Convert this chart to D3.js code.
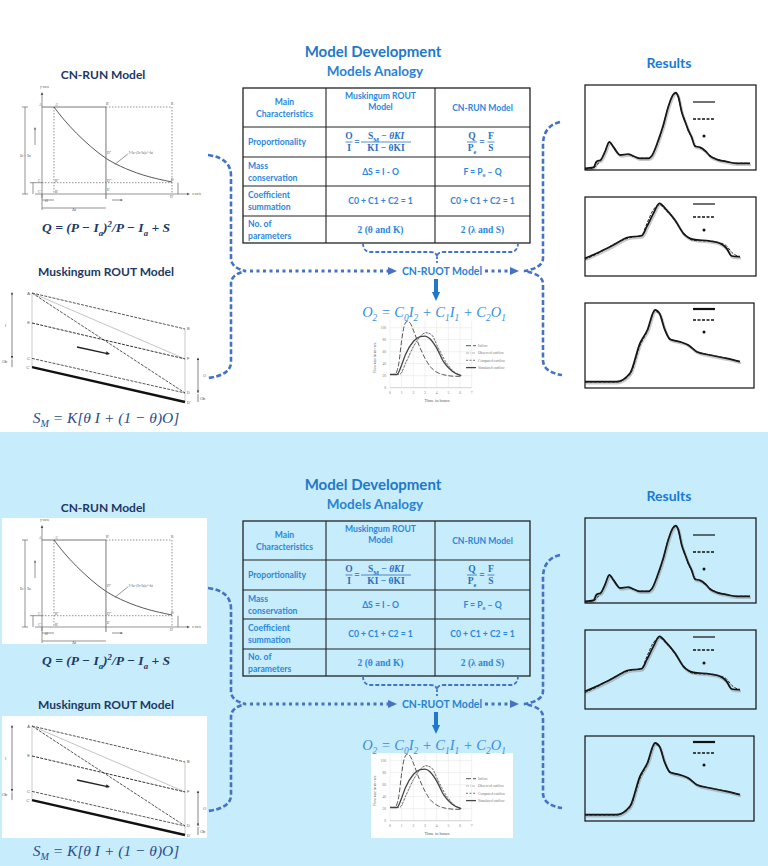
<!DOCTYPE html>
<html>
<head>
<meta charset="utf-8">
<script src="https://cdn.jsdelivr.net/npm/d3@7"></script>
<style>
  body { margin: 0; background: #fff; }
  svg { display: block; }
</style>
</head>
<body>
<svg id="chart" width="768" height="866" font-family="Lato, 'Open Sans', sans-serif"></svg>
<script>
document.addEventListener("DOMContentLoaded", main);

// --- Table content ---
var rowLabels = [['Main', 'Characteristics'], ['Proportionality'], ['Mass', 'conservation'], ['Coefficient', 'summation'], ['No. of', 'parameters']];
var muskingumCells = [['Muskingum ROUT', 'Model'], null, ['ΔS = I - O'], ['C0 + C1 + C2 = 1'], ['2 (θ and K)']];
var cnrunCells = [['CN-RUN Model'], null, null, ['C0 + C1 + C2 = 1'], ['2 (λ and S)']];

// --- CN-RUN sketch (time units vs runoff units) ---
var cnCurveT = [0.92, 1.69, 2.62, 3.69, 4.92, 6.38, 8.15, 10];
var cnCurveI = [10, 8.5, 7.0, 5.5, 4.0, 2.9, 1.95, 1.38];

// --- Muskingum sketch: points A,E,C,C' on the left and B,F,D,D' on the right ---
var muskLeftNames = ['A', 'E', 'C', "C'"];
var muskLeftLevels = [10, 7.25, 4.0, 3.2];
var muskRightNames = ['B', 'F', 'D', "D'"];
var muskRightLevels = [6.7, 3.95, 0.83, 0];

// --- Mini routing chart (hours vs flow) ---
var hourTicks = [0, 1, 2, 3, 4, 5, 6, 7];
var flowTicks = [0, 20, 40, 60, 80, 100];
var inflowT = [0, 0.4, 0.75, 1, 1.25, 1.5, 1.75, 2, 2.5, 3, 3.5, 4, 4.5, 5, 5.5, 6.1];
var inflow = [22, 22, 40, 79, 105, 111, 107, 96, 70, 49, 34, 26, 22, 20, 19, 19];
var outT = [0, 0.85, 1.4, 2.1, 2.6, 3.1, 3.6, 4.1, 4.9, 5.6, 6.1];
var observedOut = [22, 22, 43, 71, 85, 91, 88, 66, 38, 24, 20];
var computedOut = [22, 23, 44, 72, 86, 92, 87, 68, 40, 25, 20];
var simT = [0, 0.6, 1, 1.3, 2, 2.6, 3, 3.4, 4, 4.6, 5.3, 6.1];
var simulatedOut = [22, 22, 38, 54, 77, 85, 86, 82, 66, 43, 28, 20];
var miniLegend = ['Inflow', 'Observed outflow', 'Computed outflow', 'Simulated outflow'];

// --- Result hydrographs (relative time %, relative flow %) ---
var res1T = [0, 4.9, 6.8, 9.2, 11.7, 14.2, 16.6, 18.5, 20.5, 25.3, 28.3, 32.2, 37, 39, 42.9, 45.8, 48.7, 51.3, 53, 54.6, 56.5, 58.5, 60.4, 62.4, 64.3, 67.3, 70.2, 73.1, 77, 82.9, 88.7, 96.5];
var res1Obs = [2, 3, 10, 12, 21.5, 33, 27, 21.5, 17.6, 18.8, 16.5, 13.7, 13.7, 16.5, 35.3, 53, 74.5, 88, 91, 86, 68.6, 57, 47, 38.4, 28, 26.7, 22.7, 16.5, 12.5, 9.8, 7.8, 7.8];
var res1Sim = [1, 2, 6, 11, 22, 32, 28, 22, 18, 18, 16, 14, 14, 17, 34, 52, 75, 87, 90, 85, 69, 58, 46, 38, 29, 26, 22, 17, 13, 10, 8, 8];
var res2T = [0, 8.8, 16.6, 25.3, 33.2, 36.1, 40, 43.5, 47.8, 52.6, 57.5, 63.4, 73.1, 78.9, 82.8, 85.8, 90.6];
var res2Obs = [22.4, 30.8, 39.2, 49, 51, 62.4, 79.3, 92, 83.5, 70.9, 54, 46.4, 44.3, 41.4, 35, 25.3, 24.4];
var res2Sim = [21, 30, 40, 48, 52, 66, 84, 90, 82, 70, 55, 45, 44, 42, 38, 30, 24];
var res3T = [0, 18.7, 26.6, 32.5, 36.9, 41.4, 44, 47.3, 50.3, 56.2, 61.1, 66.1, 74, 83.8, 91.7];
var res3Obs = [7.4, 7.4, 17.3, 52.6, 68.2, 91.8, 87.9, 68.2, 57.3, 54.4, 50.6, 42.7, 38.8, 34.9, 31.1];
var res3Sim = [7, 7, 16, 50, 67, 90, 88, 69, 58, 54, 50, 43, 39, 35, 31];

var NAVY = '#203864', BLUE = '#1f78c8', CELL = '#2b87dc', LINK = '#4472c4';
var SERIF = "'Liberation Serif', 'DejaVu Serif', serif";
var HALF = 433;

function main() {
    var svg = d3.select('#chart');
    svg.append('rect').attr('width', 768).attr('height', 866).attr('fill', '#fff');
    svg.append('rect').attr('y', HALF - 1).attr('width', 768).attr('height', 866 - HALF + 1).attr('fill', '#c7ecfb');

    drawHalf(svg.append('g'), false);
    drawHalf(svg.append('g').attr('transform', 'translate(0,' + HALF + ')'), true);
}

// text with sub/superscript parts: [string | [string, 'sub'|'sup']]
function rich(g, x, y, parts, size) {
    var t = g.append('text').attr('x', x).attr('y', y).attr('font-size', size);
    var shift = 0;
    parts.forEach(function (p) {
        var s = typeof p === 'string' ? [p, null] : p;
        var target = s[1] === 'sub' ? size * 0.28 : s[1] === 'sup' ? -size * 0.4 : 0;
        t.append('tspan').attr('dy', target - shift).attr('font-size', s[1] ? size * 0.65 : size).text(s[0]);
        shift = target;
    });
    return t;
}

function arrowHead(g, x, y, angle, size, color) {
    g.append('path')
        .attr('d', 'M0,0 L' + (-size) + ',' + (-size * 0.45) + ' L' + (-size) + ',' + (size * 0.45) + 'Z')
        .attr('transform', 'translate(' + x + ',' + y + ') rotate(' + angle + ')')
        .attr('fill', color);
}

function drawHalf(g, tinted) {
    if (tinted) {
        g.append('rect').attr('x', 2).attr('y', 85).attr('width', 205).attr('height', 126).attr('fill', '#fff');
        g.append('rect').attr('x', 2).attr('y', 283).attr('width', 205).attr('height', 122).attr('fill', '#fff');
        g.append('rect').attr('x', 371).attr('y', 320).attr('width', 142).attr('height', 85).attr('fill', '#fff');
    }

    // Titles
    g.append('text').attr('x', 373).attr('y', 57).attr('text-anchor', 'middle').attr('font-size', 15)
        .attr('font-weight', 700).attr('fill', BLUE).text('Model Development');
    g.append('text').attr('x', 375).attr('y', 76).attr('text-anchor', 'middle').attr('font-size', 13.5)
        .attr('font-weight', 700).attr('fill', '#2a82d2').text('Models Analogy');
    g.append('text').attr('x', 103).attr('y', 79).attr('text-anchor', 'middle').attr('font-size', 12)
        .attr('font-weight', 700).attr('fill', NAVY).text('CN-RUN Model');
    g.append('text').attr('x', 106).attr('y', 276).attr('text-anchor', 'middle').attr('font-size', 12)
        .attr('font-weight', 700).attr('fill', NAVY).text('Muskingum ROUT Model');
    g.append('text').attr('x', 669).attr('y', 68).attr('text-anchor', 'middle').attr('font-size', 14)
        .attr('font-weight', 700).attr('fill', '#1a7ad4').text('Results');

    drawCnRun(g);
    drawMuskingum(g);
    drawTable(g, tinted);
    drawLinks(g);
    drawMiniChart(g);
    drawResults(g);
}

function drawCnRun(g) {
    var x = d3.scaleLinear().domain([0, 10]).range([42, 172]);
    var y = d3.scaleLinear().domain([0, 10]).range([194, 107]);
    var d = g.append('g').attr('stroke', '#666').attr('fill', 'none').attr('stroke-width', 0.7);
    var lab = g.append('g').attr('fill', '#555').attr('font-size', 3.6).attr('font-family', SERIF);

    // axes
    d.append('line').attr('x1', x(0)).attr('x2', x(0)).attr('y1', y(0) + 4).attr('y2', 93);
    arrowHead(g, x(0), 92, -90, 3, '#555');
    d.append('line').attr('x1', 35).attr('x2', 188).attr('y1', y(0)).attr('y2', y(0));
    arrowHead(g, 190, y(0), 0, 3, '#555');
    lab.append('text').attr('x', 40).attr('y', 88).text('y-axis');
    lab.append('text').attr('x', 192).attr('y', y(0) + 1).text('x-axis');

    // box
    d.append('line').attr('x1', x(0)).attr('x2', x(4.92)).attr('y1', y(10)).attr('y2', y(10)).attr('stroke-width', 0.9);
    d.append('line').attr('x1', x(4.92)).attr('x2', x(10)).attr('y1', y(10)).attr('y2', y(10)).attr('stroke-dasharray', '1.5,1.5');
    d.append('line').attr('x1', x(4.92)).attr('x2', x(4.92)).attr('y1', y(10)).attr('y2', y(0) + 5).attr('stroke-width', 0.9);
    d.append('line').attr('x1', x(0.92)).attr('x2', x(0.92)).attr('y1', y(10)).attr('y2', y(0)).attr('stroke-dasharray', '1.5,1.5');
    d.append('line').attr('x1', x(10)).attr('x2', x(10)).attr('y1', y(10)).attr('y2', y(0)).attr('stroke-dasharray', '1.5,1.5');
    d.append('line').attr('x1', x(0)).attr('x2', x(10)).attr('y1', y(1.3)).attr('y2', y(1.3)).attr('stroke-dasharray', '1.5,1.5');

    // decay curve
    var pts = cnCurveT.map(function (t, i) { return [t, cnCurveI[i]]; });
    d.append('path').datum(pts)
        .attr('d', d3.line().x(function (p) { return x(p[0]); }).y(function (p) { return y(p[1]); }).curve(d3.curveBasis))
        .attr('stroke', '#444').attr('stroke-width', 0.9);
    d.append('line').attr('x1', x(5.6)).attr('y1', y(3.4)).attr('x2', x(6.6)).attr('y2', y(4.6));
    lab.append('text').attr('x', x(6.7)).attr('y', y(4.6)).text('I-Ia=(Ic-Ia)e^-kt');

    // dimension lines
    d.append('line').attr('x1', 25).attr('x2', 25).attr('y1', y(10)).attr('y2', y(0));
    d.append('line').attr('x1', 22).attr('x2', 28).attr('y1', y(10)).attr('y2', y(10));
    d.append('line').attr('x1', 22).attr('x2', 28).attr('y1', y(0)).attr('y2', y(0));
    lab.append('text').attr('x', 20).attr('y', 157).attr('font-size', 4.5).text('Ic - Ia');
    d.append('line').attr('x1', 33).attr('x2', 33).attr('y1', y(1.3)).attr('y2', y(0));
    d.append('line').attr('x1', 30).attr('x2', x(0)).attr('y1', y(1.3)).attr('y2', y(1.3));
    d.append('line').attr('x1', 178).attr('x2', 178).attr('y1', y(1.3)).attr('y2', y(0));
    d.append('line').attr('x1', x(0)).attr('x2', x(0.92)).attr('y1', 200).attr('y2', 200);
    d.append('line').attr('x1', x(0)).attr('x2', x(4.92)).attr('y1', 208).attr('y2', 208);
    d.append('line').attr('x1', x(0)).attr('x2', x(0)).attr('y1', y(0)).attr('y2', 210);
    d.append('line').attr('x1', 35).attr('x2', 35).attr('y1', 128).attr('y2', 145);
    arrowHead(g, 35, 127, -90, 2.5, '#666');
    d.append('line').attr('x1', 112).attr('x2', 122).attr('y1', 200).attr('y2', 200);
    arrowHead(g, 123, 200, 0, 2.5, '#666');
    lab.append('text').attr('x', 72).attr('y', 211).attr('font-size', 4.5).text('Δt');
    lab.append('text').attr('x', 45).attr('y', 202).text('t0');

    [['A', x(0) - 3, y(10) - 1], ["A'", x(0.92) + 1, y(10) - 1], ["B'", x(4.92), y(10) - 2], ['B', x(10) - 1, y(10) - 2],
     ['D"', x(4.92) + 1, y(4.6)], ['C', x(0) - 4, y(1.3) - 1], ['B"', x(0.92) + 1, y(1.3) - 1], ['D"\'', x(4.92) + 1, y(1.3) - 1],
     ['D', x(10) - 1, y(1.3) - 2], ["C'", x(0) - 4, y(0) - 1], ["B'", x(0.92) + 1, y(0) - 1], ["E'", x(4.92) + 1, y(0) - 3],
     ["D'", x(10) - 2, y(0) + 4]].forEach(function (l) {
        lab.append('text').attr('x', l[1]).attr('y', l[2]).text(l[0]);
    });

    // runoff formula
    var f = rich(g, 106, 232, [
        'Q = (P − I', ['a', 'sub'], ')', ['2', 'sup'], '/P − I', ['a', 'sub'], ' + S'
    ], 13.5);
    f.attr('text-anchor', 'middle').attr('font-family', SERIF).attr('font-style', 'italic')
        .attr('font-weight', 700).attr('fill', NAVY);
}

function drawMuskingum(g) {
    var x = d3.scaleLinear().domain([0, 10]).range([32, 185]);
    var y = d3.scaleLinear().domain([0, 10]).range([402, 293]);
    var d = g.append('g').attr('fill', 'none');
    var lab = g.append('g').attr('fill', '#555').attr('font-size', 4).attr('font-family', "'Liberation Sans'");
    var L = muskLeftLevels, R = muskRightLevels;

    d.append('line').attr('x1', x(0)).attr('x2', x(0)).attr('y1', y(L[0])).attr('y2', y(L[3])).attr('stroke', '#bbb').attr('stroke-width', 0.8);
    d.append('line').attr('x1', x(10)).attr('x2', x(10)).attr('y1', y(R[0])).attr('y2', y(R[3])).attr('stroke', '#bbb').attr('stroke-width', 0.8);

    var seg = function (a, b, stroke, w, dash) {
        d.append('line').attr('x1', x(0)).attr('y1', y(a)).attr('x2', x(10)).attr('y2', y(b))
            .attr('stroke', stroke).attr('stroke-width', w).attr('stroke-dasharray', dash);
    };
    seg(L[0], R[0], '#444', 0.9, '3,1.2');   // A-B
    seg(L[0], R[1], '#aaa', 0.7, null);      // A-F
    seg(L[0], R[2], '#444', 0.9, '3,1.2');   // A-D
    seg(L[1], R[1], '#333', 1, '3,1.2');     // E-F
    seg(L[2], R[2], '#444', 0.9, '3,1.2');   // C-D
    seg(L[3], R[3], '#111', 2.4, null);      // C'-D'

    // flow arrow
    d.append('line').attr('x1', x(2.94)).attr('y1', y(5.05)).attr('x2', x(5.0)).attr('y2', y(4.42)).attr('stroke', '#222').attr('stroke-width', 1.4);
    arrowHead(g, x(5.1), y(4.4), 14, 4, '#222');

    muskLeftNames.forEach(function (n, i) {
        lab.append('text').attr('x', x(0) - 2).attr('y', y(L[i]) + 1.5).attr('text-anchor', 'end').text(n);
    });
    muskRightNames.forEach(function (n, i) {
        lab.append('text').attr('x', x(10) + 2).attr('y', y(R[i]) + 1.5).text(n);
    });

    // storage depth arrows
    d.append('line').attr('x1', 12).attr('x2', 12).attr('y1', y(L[0])).attr('y2', y(L[2])).attr('stroke', '#333').attr('stroke-width', 0.6);
    arrowHead(g, 12, y(L[0]) - 1, -90, 2.5, '#333');
    arrowHead(g, 12, y(L[2]), 90, 2.5, '#333');
    d.append('line').attr('x1', 12).attr('x2', 12).attr('y1', y(L[2]) + 1).attr('y2', y(L[3])).attr('stroke', '#333').attr('stroke-width', 0.6);
    lab.append('text').attr('x', 5).attr('y', 327).text('I');
    lab.append('text').attr('x', 2).attr('y', y(L[2]) + 5).text('Ob');
    d.append('line').attr('x1', 198).attr('x2', 198).attr('y1', y(L[2])).attr('y2', y(R[2])).attr('stroke', '#333').attr('stroke-width', 0.6);
    arrowHead(g, 198, y(L[2]) - 1, -90, 2.5, '#333');
    arrowHead(g, 198, y(R[2]), 90, 2.5, '#333');
    d.append('line').attr('x1', 198).attr('x2', 198).attr('y1', y(R[2]) + 1).attr('y2', y(R[3])).attr('stroke', '#333').attr('stroke-width', 0.6);
    lab.append('text').attr('x', 203).attr('y', 377).text('O');
    lab.append('text').attr('x', 200).attr('y', 400).text('Ob');

    var f = rich(g, 106, 423, [
        'S', ['M', 'sub'], ' = K[θ I + (1 − θ)O]'
    ], 15.5);
    f.attr('text-anchor', 'middle').attr('font-family', SERIF).attr('font-style', 'italic').attr('fill', '#2b4c8c');
}

function drawTable(g, tinted) {
    var colEdges = [243, 326, 435, 530];
    var rowEdges = [88, 127, 157, 186, 216, 243];
    var t = g.append('g');
    if (!tinted) {
        t.append('rect').attr('x', colEdges[0]).attr('y', rowEdges[0]).attr('width', colEdges[3] - colEdges[0])
            .attr('height', rowEdges[5] - rowEdges[0]).attr('fill', '#fff');
    }
    t.append('rect').attr('x', colEdges[0]).attr('y', rowEdges[0]).attr('width', colEdges[3] - colEdges[0])
        .attr('height', rowEdges[5] - rowEdges[0]).attr('fill', 'none').attr('stroke', '#222').attr('stroke-width', 1.3);
    rowEdges.slice(1, 5).forEach(function (r) {
        t.append('line').attr('x1', colEdges[0]).attr('x2', colEdges[3]).attr('y1', r).attr('y2', r).attr('stroke', '#222').attr('stroke-width', 1.1);
    });
    colEdges.slice(1, 3).forEach(function (c) {
        t.append('line').attr('x1', c).attr('x2', c).attr('y1', rowEdges[0]).attr('y2', rowEdges[5]).attr('stroke', '#222').attr('stroke-width', 1.1);
    });

    var txt = t.append('g').attr('fill', CELL).attr('font-size', 8.6).attr('font-weight', 700);
    var mid = function (i) { return (rowEdges[i] + rowEdges[i + 1]) / 2; };
    var c1 = (colEdges[1] + colEdges[2]) / 2, c2 = (colEdges[2] + colEdges[3]) / 2;

    rowLabels.forEach(function (lines, i) {
        var header = i === 0;
        lines.forEach(function (s, k) {
            txt.append('text')
                .attr('x', header ? (colEdges[0] + colEdges[1]) / 2 : colEdges[0] + 5)
                .attr('y', mid(i) + 3 + (k - (lines.length - 1) / 2) * 12)
                .attr('text-anchor', header ? 'middle' : 'start').text(s);
        });
    });
    [[muskingumCells, c1], [cnrunCells, c2]].forEach(function (col) {
        col[0].forEach(function (lines, i) {
            if (!lines) return;
            var top = i === 0 && lines.length > 1;
            lines.forEach(function (s, k) {
                var el = txt.append('text').attr('x', col[1])
                    .attr('y', top ? rowEdges[0] + 11 + k * 11 : mid(i) + 3 + (k - (lines.length - 1) / 2) * 12)
                    .attr('text-anchor', 'middle').text(s);
                if (i === 4) el.attr('font-family', SERIF).attr('font-size', 9.5);
            });
        });
    });
    // F = Pe – Q
    rich(txt, c2, mid(2) + 3, ['F = P', ['e', 'sub'], ' – Q'], 8.6).attr('text-anchor', 'middle');

    // proportionality fractions
    var fr = t.append('g').attr('fill', '#2d6fc0').attr('font-family', SERIF).attr('font-weight', 700).attr('font-size', 9.5);
    var m = mid(1);
    var frac = function (cx, w, top, bottom) {
        fr.append('line').attr('x1', cx - w / 2).attr('x2', cx + w / 2).attr('y1', m).attr('y2', m).attr('stroke', '#2d6fc0').attr('stroke-width', 0.8);
        rich(fr, cx, m - 3, top, 9.5).attr('text-anchor', 'middle');
        rich(fr, cx, m + 9, bottom, 9.5).attr('text-anchor', 'middle');
    };
    frac(349, 7, ['O'], ['I']);
    fr.append('text').attr('x', 357).attr('y', m + 3).attr('text-anchor', 'middle').text('=');
    frac(386, 50, ['S', ['M', 'sub'], ' − ', 'θKI'], ['KI − θKI']);
    fr.selectAll('tspan').filter(function () { return this.textContent === 'θKI'; }).attr('font-style', 'italic');
    frac(472, 10, ['Q'], ['P', ['e', 'sub']]);
    fr.append('text').attr('x', 482).attr('y', m + 3).attr('text-anchor', 'middle').text('=');
    frac(491, 7, ['F'], ['S']);
}

function drawLinks(g) {
    var l = g.append('g').attr('fill', 'none').attr('stroke', LINK);
    var braceL = d3.path();
    braceL.moveTo(208, 155); braceL.quadraticCurveTo(231, 158, 231, 176);
    braceL.lineTo(231, 258); braceL.quadraticCurveTo(231, 268, 246, 271);
    braceL.quadraticCurveTo(231, 274, 231, 284); braceL.lineTo(231, 362);
    braceL.quadraticCurveTo(231, 375, 208, 378);
    l.append('path').attr('d', braceL.toString()).attr('stroke-width', 2.6).attr('stroke-dasharray', '5,2.5');

    var braceR = d3.path();
    braceR.moveTo(560, 122); braceR.quadraticCurveTo(543, 126, 543, 145);
    braceR.lineTo(543, 258); braceR.quadraticCurveTo(543, 268, 524, 271);
    braceR.quadraticCurveTo(543, 274, 543, 284); braceR.lineTo(543, 360);
    braceR.quadraticCurveTo(543, 372, 562, 375);
    l.append('path').attr('d', braceR.toString()).attr('stroke-width', 2.6).attr('stroke-dasharray', '5,2.5');

    // bracket under table
    var br = d3.path();
    br.moveTo(363, 243); br.quadraticCurveTo(363, 252, 371, 252); br.lineTo(430, 252);
    br.quadraticCurveTo(437, 252, 437, 257); br.quadraticCurveTo(437, 252, 444, 252);
    br.lineTo(510, 252); br.quadraticCurveTo(518, 252, 518, 243);
    l.append('path').attr('d', br.toString()).attr('stroke-width', 1.8).attr('stroke-dasharray', '4,2');
    l.append('line').attr('x1', 437).attr('x2', 437).attr('y1', 257).attr('y2', 263).attr('stroke-width', 1.8).attr('stroke-dasharray', '2,2');

    // dotted flows into CN-RUOT
    l.append('line').attr('x1', 250).attr('x2', 388).attr('y1', 271).attr('y2', 271).attr('stroke-width', 3).attr('stroke-dasharray', '3,3.5');
    arrowHead(g, 397, 271, 0, 9, LINK);
    l.append('line').attr('x1', 485).attr('x2', 509).attr('y1', 271).attr('y2', 271).attr('stroke-width', 3).attr('stroke-dasharray', '3,3.5');
    arrowHead(g, 519, 271, 0, 9, LINK);

    g.append('text').attr('x', 442).attr('y', 275).attr('text-anchor', 'middle').attr('font-size', 10.5)
        .attr('font-weight', 700).attr('fill', '#2a82d2').text('CN-RUOT Model');

    // down arrow
    g.append('line').attr('x1', 436).attr('x2', 436).attr('y1', 279).attr('y2', 293).attr('stroke', '#1f78c8').attr('stroke-width', 4);
    arrowHead(g, 436, 301, 90, 9, '#1f78c8');

    var f = rich(g, 434, 317, [
        'O', ['2', 'sub'], ' = C', ['0', 'sub'], 'I', ['2', 'sub'], ' + C', ['1', 'sub'], 'I', ['1', 'sub'], ' + C', ['2', 'sub'], 'O', ['1', 'sub']
    ], 14.5);
    f.attr('text-anchor', 'middle').attr('font-family', SERIF).attr('font-style', 'italic').attr('fill', '#3a8de0');
}

function drawMiniChart(g) {
    var x = d3.scaleLinear().domain([0, 7]).range([390, 471.7]);
    var y = d3.scaleLinear().domain([0, 100]).range([387.7, 327.7]);
    var c = g.append('g');

    c.selectAll('.vgrid').data(hourTicks).enter().append('line')
        .attr('x1', x).attr('x2', x).attr('y1', y(0)).attr('y2', y(112)).attr('stroke', '#e2e2e2').attr('stroke-width', 0.5);
    c.selectAll('.hgrid').data(flowTicks).enter().append('line')
        .attr('x1', x(0)).attr('x2', x(7)).attr('y1', y).attr('y2', y).attr('stroke', '#e2e2e2').attr('stroke-width', 0.5);
    c.append('line').attr('x1', x(0)).attr('x2', x(7)).attr('y1', y(0)).attr('y2', y(0)).attr('stroke', '#bbb').attr('stroke-width', 0.5);

    var tk = c.append('g').attr('fill', '#777').attr('font-size', 3.6).attr('font-family', SERIF);
    tk.selectAll('.xt').data(hourTicks).enter().append('text')
        .attr('x', x).attr('y', y(0) + 6).attr('text-anchor', 'middle').text(function (d) { return d; });
    tk.selectAll('.yt').data(flowTicks).enter().append('text')
        .attr('x', x(0) - 4).attr('y', function (d) { return y(d) + 1.2; }).attr('text-anchor', 'end').text(function (d) { return d; });
    tk.append('text').attr('x', 437).attr('y', 402).attr('text-anchor', 'middle').attr('font-size', 4.5).attr('fill', '#555').text('Time in hours');
    tk.append('text').attr('transform', 'translate(376,' + y(50) + ') rotate(-90)').attr('text-anchor', 'middle')
        .attr('font-size', 4).attr('fill', '#555').text('Flow rate in m³/sec');

    var line = d3.line().x(function (p) { return x(p[0]); }).y(function (p) { return y(p[1]); }).curve(d3.curveMonotoneX);
    var zip = function (a, b) { return a.map(function (v, i) { return [v, b[i]]; }); };
    var styles = [
        { pts: zip(inflowT, inflow), stroke: '#555', w: 1, dash: '5,2' },
        { pts: zip(outT, observedOut), stroke: '#999', w: 0.7, dash: '3,1,1,1' },
        { pts: zip(outT, computedOut), stroke: '#666', w: 0.9, dash: '2,1.5' },
        { pts: zip(simT, simulatedOut), stroke: '#444', w: 1.3, dash: null }
    ];
    styles.forEach(function (s, i) {
        c.append('path').datum(s.pts).attr('d', line).attr('fill', 'none')
            .attr('stroke', s.stroke).attr('stroke-width', s.w).attr('stroke-dasharray', s.dash);
        var ly = 345.7 + i * 7.3;
        c.append('line').attr('x1', 466).attr('x2', 476).attr('y1', ly).attr('y2', ly)
            .attr('stroke', s.stroke).attr('stroke-width', s.w).attr('stroke-dasharray', s.dash);
        c.append('text').attr('x', 478).attr('y', ly + 1.2).attr('font-size', 3.6).attr('fill', '#777')
            .attr('font-family', SERIF).text(miniLegend[i]);
    });
}

function drawResults(g) {
    var boxes = [
        { x: 585, y: 85, w: 171, h: 85, t: res1T, obs: res1Obs, sim: res1Sim, legend: [102, 119, 136], thick: false },
        { x: 585, y: 197, w: 171, h: 79, t: res2T, obs: res2Obs, sim: res2Sim, legend: [204, 217, 230], thick: false },
        { x: 585, y: 303, w: 169, h: 85, t: res3T, obs: res3Obs, sim: res3Sim, legend: [309, 320, 332], thick: true }
    ];
    boxes.forEach(function (b) {
        var p = g.append('g');
        var x = d3.scaleLinear().domain([0, 100]).range([b.x, b.x + b.w]);
        var y = d3.scaleLinear().domain([0, 100]).range([b.y + b.h, b.y]);
        var line = d3.line().x(function (d, i) { return x(b.t[i]); }).y(function (d) { return y(d); }).curve(d3.curveMonotoneX);

        p.append('path').datum(b.obs).attr('d', line).attr('fill', 'none').attr('stroke', '#888')
            .attr('stroke-width', 2.4).attr('opacity', 0.45).attr('transform', 'translate(1,1.5)');
        p.append('path').datum(b.obs).attr('d', line).attr('fill', 'none').attr('stroke', '#111').attr('stroke-width', 1.7);
        p.append('path').datum(b.sim).attr('d', line).attr('fill', 'none').attr('stroke', '#222')
            .attr('stroke-width', 1).attr('stroke-dasharray', '3,1.5');

        p.append('rect').attr('x', b.x).attr('y', b.y).attr('width', b.w).attr('height', b.h)
            .attr('fill', 'none').attr('stroke', '#111').attr('stroke-width', 1.2);

        p.append('line').attr('x1', 693).attr('x2', 715).attr('y1', b.legend[0]).attr('y2', b.legend[0])
            .attr('stroke', '#111').attr('stroke-width', b.thick ? 2.2 : 1.2);
        p.append('line').attr('x1', 693).attr('x2', 715).attr('y1', b.legend[1]).attr('y2', b.legend[1])
            .attr('stroke', '#111').attr('stroke-width', 1.6).attr('stroke-dasharray', '3,1.5');
        p.append('circle').attr('cx', 704).attr('cy', b.legend[2]).attr('r', 1.5).attr('fill', '#111');
    });
}
</script>
</body>
</html>
